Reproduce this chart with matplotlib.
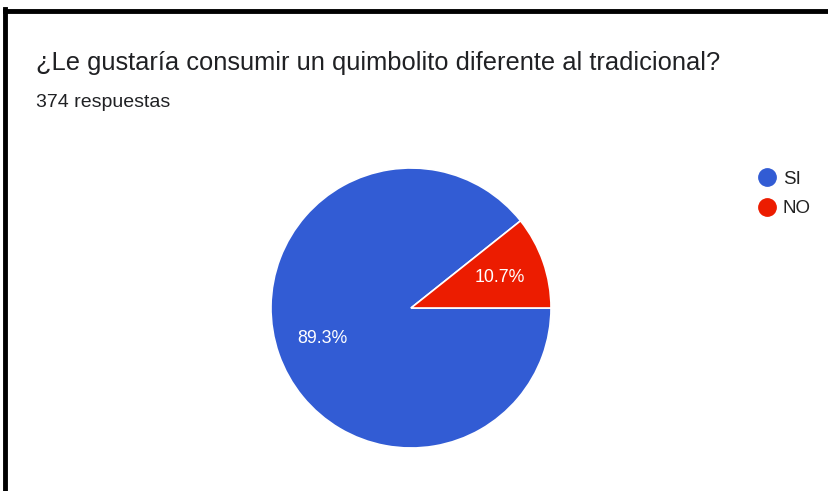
import matplotlib.pyplot as plt
from matplotlib.lines import Line2D

plt.rcParams['font.family'] = ['Liberation Sans', 'DejaVu Sans']

title = "¿Le gustaría consumir un quimbolito diferente al tradicional?"
subtitle = "374 respuestas"
categories = ["SI", "NO"]
percentages = [89.3, 10.7]
colors = ["#325CD4", "#EC1C00"]

W, H = 829, 491
fig = plt.figure(figsize=(W / 100, H / 100), dpi=100)
fig.patch.set_facecolor("white")


def fx(px):
    return px / W


def fy(py):
    return 1 - py / H


# pie axes: centre (411, 308), radius 140 px
cx, cy, r = 411, 308, 140
ax = fig.add_axes([fx(cx - r), fy(cy + r), 2 * r / W, 2 * r / H])
wedges, texts, autotexts = ax.pie(
    percentages, colors=colors, startangle=0, counterclock=False,
    autopct=lambda p: f"{p:.1f}%", pctdistance=0.67,
    wedgeprops=dict(edgecolor="white", linewidth=1.2),
    textprops=dict(color="white", fontsize=12.8),
)
ax.set_aspect("equal")
ax.set_xlim(-1, 1)
ax.set_ylim(-1, 1)
ax.axis("off")

# header texts
fig.text(fx(36), fy(70), title, fontsize=18.4, color="#202124", va="baseline", ha="left")
fig.text(fx(36), fy(107), subtitle, fontsize=14, color="#202124", va="baseline", ha="left")

# legend entries
for i, (name, col) in enumerate(zip(categories, colors)):
    y = 177 + 30 * i
    fig.add_artist(Line2D([fx(767)], [fy(y)], marker="o", linestyle="none", markersize=12.5,
                          markerfacecolor=col, markeredgecolor=col, transform=fig.transFigure))
    fig.text(fx(783), fy(y), name, fontsize=13.5, color="#222222", va="center_baseline", ha="left")

# left and top frame lines
fig.add_artist(Line2D([fx(5), fx(5)], [0, fy(9)], color="black", linewidth=3.5,
                      transform=fig.transFigure, solid_capstyle="projecting"))
fig.add_artist(Line2D([fx(5), 1], [fy(11), fy(11)], color="black", linewidth=3.5,
                      transform=fig.transFigure, solid_capstyle="projecting"))

fig.savefig("out.png", dpi=100)
